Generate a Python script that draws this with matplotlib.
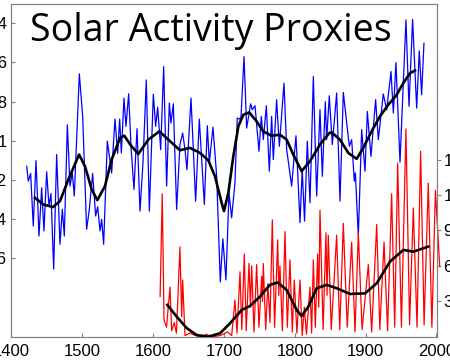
import matplotlib
matplotlib.use("Agg")
import matplotlib.pyplot as plt

# ---- 10Be proxy (blue), inverted left axis ----
be_years = [1421.7, 1424, 1427.3, 1431, 1434.9, 1439.1, 1442.8, 1446.1, 1449.9, 1453.2,
            1456, 1459.8, 1464, 1468.7, 1472, 1474.8, 1479.1, 1482.8, 1486.1, 1488.9,
            1496, 1500.7, 1506.3, 1510.1, 1514.8, 1519, 1521.9, 1525.2, 1527.5, 1530.3,
            1535.5, 1541.6, 1546.3, 1550.1, 1552.9, 1555.3, 1559, 1561.8, 1565.6, 1568.9,
            1573.1, 1577.4, 1581.6, 1585.8, 1590.5, 1594.8, 1600.4, 1603.7, 1606.5, 1610.8,
            1615, 1619.2, 1623, 1625.3, 1628.6, 1633.3, 1638, 1641.8, 1645.1, 1647.9,
            1653.6, 1660.1, 1665.3, 1672.4, 1676.6, 1679.4, 1684.6, 1689.8, 1694.9, 1698.5,
            1702.9, 1707.2, 1710.9, 1715.6, 1718.9, 1721.8, 1724.1, 1728.4, 1732.1, 1737.8,
            1740.1, 1743.9, 1749.5, 1752.8, 1755.6, 1759.9, 1764.1, 1767.4, 1769.7, 1774.4,
            1778.2, 1784.8, 1788.6, 1795.6, 1801.7, 1807.4, 1810.5, 1813.8, 1817.7, 1821.5,
            1826.2, 1830.9, 1835.6, 1838.9, 1843.1, 1845, 1848.7, 1853, 1859.1, 1863.8,
            1868.5, 1877, 1880.3, 1884, 1885.5, 1889.7, 1894.4, 1899.1, 1902.4, 1907.5,
            1914.1, 1917.9, 1924.9, 1929.7, 1935.8, 1939.1, 1942.8, 1948.5, 1956.9, 1961.2,
            1966.3, 1972, 1975.7, 1979, 1982.3]
be_vals = [1.130, 1.206, 1.167, 1.435, 1.101, 1.486, 1.240, 1.460, 1.158, 1.333,
           1.269, 1.655, 1.070, 1.528, 1.350, 1.486, 0.918, 1.231, 1.164, 1.282,
           0.658, 0.875, 1.452, 1.350, 1.167, 1.384, 1.337, 1.460, 1.401, 1.528,
           1.002, 1.164, 0.889, 1.065, 0.889, 1.062, 0.782, 0.926, 0.760, 1.028,
           1.248, 0.938, 1.359, 1.113, 0.689, 1.359, 0.762, 0.926, 0.828, 1.045,
           0.621, 1.231, 0.807, 0.909, 0.811, 1.350, 1.019, 0.960, 1.045, 1.147,
           0.782, 1.308, 0.889, 1.325, 0.923, 1.113, 0.930, 1.181, 1.720, 1.500,
           1.710, 1.265, 1.393, 1.214, 0.884, 0.889, 0.879, 0.570, 0.935, 0.811,
           0.841, 0.821, 1.053, 0.875, 0.994, 0.821, 1.155, 0.875, 1.096, 0.790,
           1.028, 0.706, 1.045, 1.231, 0.974, 1.418, 1.147, 1.410, 1.002, 1.316,
           0.672, 1.282, 0.841, 1.181, 0.800, 0.994, 0.770, 1.019, 0.756, 1.308,
           0.753, 1.028, 0.994, 1.206, 1.164, 1.486, 0.943, 1.155, 0.850, 1.079,
           0.790, 0.994, 0.761, 0.841, 0.646, 0.858, 0.600, 1.109, 0.383, 0.824,
           0.380, 0.833, 0.541, 0.765, 0.502]

be_smooth_years = [1433.4, 1445.2, 1458.9, 1468.7, 1480.5, 1495.6, 1504, 1513.4, 1521.4, 1532.2,
                   1541.6, 1553.4, 1559.5, 1568, 1579.2, 1593.3, 1608.9, 1621.6, 1638, 1652.2,
                   1666.3, 1678, 1687.4, 1696.8, 1700.1, 1706.3, 1713.3, 1720.4, 1727.4, 1735.8,
                   1746.2, 1755.6, 1767.4, 1779.1, 1788.6, 1797.9, 1809.7, 1821.5, 1835.6, 1848.7,
                   1852, 1863.8, 1875.6, 1887.3, 1896.7, 1908.5, 1920.2, 1932, 1943.8, 1953.2,
                   1962.6, 1969.6]
be_smooth_vals = [1.291, 1.325, 1.338, 1.308, 1.198, 1.070, 1.130, 1.248, 1.303, 1.231,
                  1.096, 0.985, 0.974, 1.020, 1.067, 0.994, 0.952, 0.994, 1.048, 1.036,
                  1.062, 1.099, 1.181, 1.316, 1.359, 1.265, 1.079, 0.926, 0.867, 0.855,
                  0.901, 0.952, 0.974, 0.969, 0.994, 1.070, 1.155, 1.104, 1.019, 0.960,
                  0.957, 0.994, 1.062, 1.092, 1.036, 0.951, 0.875, 0.816, 0.765, 0.705,
                  0.655, 0.641]

# ---- Sunspot number (red), right axis ----
ss_years = [1610, 1613, 1615.5, 1619, 1623.9, 1626.3, 1630, 1633, 1638, 1640.4,
            1641.8, 1645.1, 1652, 1660, 1668, 1675, 1684, 1695, 1705, 1711,
            1715.6, 1718.5, 1722.7, 1725.3, 1728.8, 1731.5, 1735.4, 1737.5, 1739.2, 1742.5,
            1746.2, 1749.5, 1753.3, 1754.5, 1755.6, 1759, 1762, 1765, 1768.3, 1771.5,
            1775.9, 1777.5, 1779.1, 1782.5, 1786.2, 1789.5, 1793.2, 1796.5, 1799.3, 1803,
            1807.4, 1810.5, 1813.5, 1816.5, 1821.5, 1823.8, 1826.2, 1829, 1832.3, 1833.8,
            1835.6, 1840, 1844, 1845.5, 1847.3, 1851.5, 1859.1, 1863.5, 1868.5, 1874,
            1880.3, 1885, 1889.7, 1895, 1903.8, 1908.5, 1915.6, 1920, 1926, 1931,
            1936.7, 1941, 1945.2, 1950.5, 1956.9, 1962, 1967.3, 1972.5, 1977.6, 1982.5,
            1988.4, 1993.5, 1998.5, 2004.5]
ss_vals = [34, 121, 14, 8, 42, 5, 12, 3, 76, 17,
           48, 1, 3, 1, 0, 2, 0, 1, 4, 1,
           31, 3, 55, 6, 70, 5, 62, 25, 60, 4,
           61, 8, 51, 30, 62, 6, 45, 12, 99, 8,
           82, 35, 60, 5, 89, 8, 65, 4, 48, 3,
           48, 1, 25, 2, 42, 3, 65, 8, 70, 25,
           107, 6, 88, 35, 86, 6, 86, 6, 96, 8,
           80, 4, 88, 6, 61, 4, 95, 6, 80, 5,
           121, 8, 147, 8, 176, 10, 109, 8, 157, 10,
           130, 8, 124, 60]

ss_smooth_years = [1620.2, 1633.4, 1647.5, 1661.6, 1678, 1694.5, 1708.6, 1725.1, 1736.8, 1750.9,
                   1765, 1775.9, 1788.6, 1802.7, 1809.7, 1819.1, 1830.9, 1845, 1859.2, 1878,
                   1899.1, 1915.6, 1934.4, 1953.2, 1967.3, 1988.4]
ss_smooth_vals = [26.9, 17, 7.3, 1.4, 0, 2.9, 11.3, 22.6, 26, 34,
                  43.9, 45.9, 39.6, 22.6, 17.5, 25.4, 41, 43.9, 41, 36.2,
                  36.7, 45.2, 63.6, 73.5, 72, 76.3]

be_ticks = [0.4, 0.6, 0.8, 1.0, 1.2, 1.4, 1.6]
be_ticklabels = ["0.4", "0.6", "0.8", "1", "1.2", "1.4", "1.6"]
ss_ticks = [30, 60, 90, 120, 150]
year_ticks = [1400, 1500, 1600, 1700, 1800, 1900, 2000]
title = "Solar Activity Proxies"

plt.rcParams['font.family'] = ['Liberation Sans', 'DejaVu Sans']
fig = plt.figure(figsize=(4.5, 3.61), dpi=100)
ax = fig.add_axes([11.3 / 450, 1 - 336.7 / 361, (436.5 - 11.3) / 450, (336.7 - 4.3) / 361])
ax2 = ax.twinx()

ax.plot(be_years, be_vals, color='#0000ff', lw=0.9, zorder=2)
ax.plot(be_smooth_years, be_smooth_vals, color='black', lw=1.9, zorder=4)
ax.set_ylim(2.0, 0.303)
ax.set_xlim(1400, 2000)

ax2.plot(ss_years, ss_vals, color='#ff0000', lw=0.9, zorder=2, clip_on=False)
ax2.plot(ss_smooth_years, ss_smooth_vals, color='black', lw=1.9, zorder=4)
ax2.set_ylim(0, 281.5)

gray = '#808080'
for a in (ax, ax2):
    for s in a.spines.values():
        s.set_color(gray)
        s.set_linewidth(0.8)

ax.set_yticks(be_ticks)
ax.set_yticklabels(be_ticklabels)
ax.set_xticks(year_ticks)
ax.set_xticklabels([str(y) for y in year_ticks])
ax.tick_params(axis='both', direction='in', length=3, width=0.8, color=gray,
               labelsize=12, pad=3)
ax.tick_params(axis='x', pad=5)
ax2.set_yticks(ss_ticks)
ax2.set_yticklabels([str(v) for v in ss_ticks])
ax2.tick_params(axis='y', direction='out', length=3, width=0.8, color=gray,
                labelsize=12, pad=2)

fig.text(30 / 450, 1 - 41 / 361, title, fontsize=27, family=['Open Sans', 'DejaVu Sans'],
         ha='left', va='baseline')

fig.savefig('out.png', dpi=100)
